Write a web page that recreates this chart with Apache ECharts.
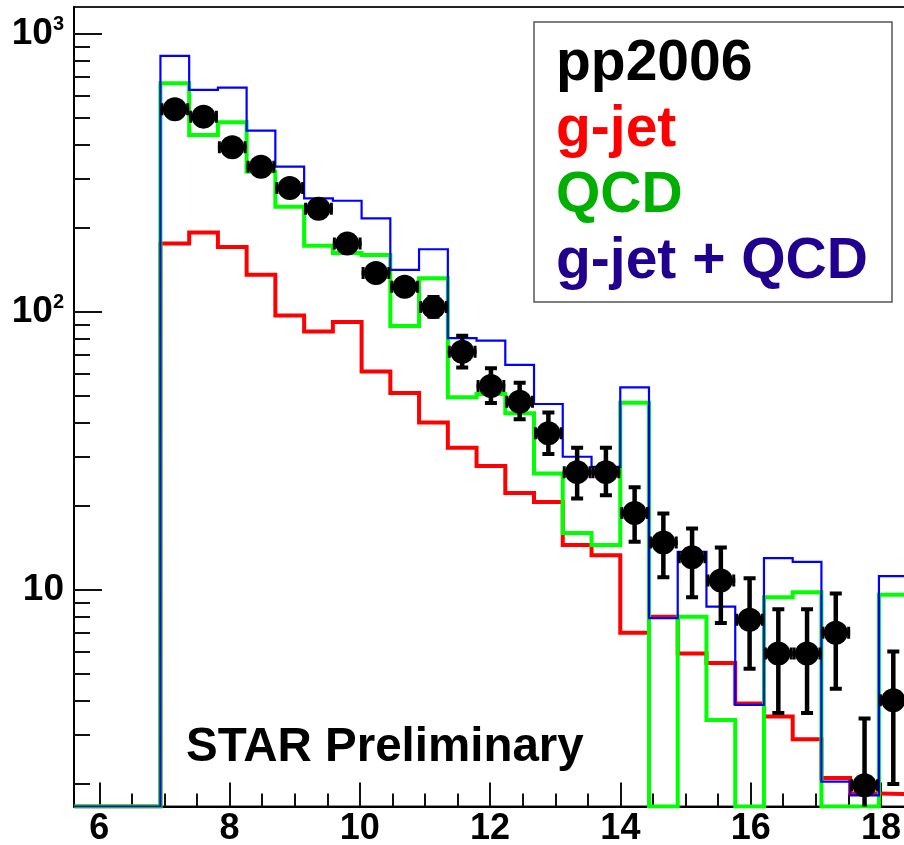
<!DOCTYPE html>
<html>
<head>
<meta charset="utf-8">
<script src="https://cdn.jsdelivr.net/npm/echarts@6/dist/echarts.min.js"></script>
<style>
html,body{margin:0;padding:0;background:#fff;}
#chart{width:904px;height:845px;}
</style>
</head>
<body>
<div id="chart"></div>
<script>
// ---- axis ranges ----
const X_MIN = 5.612, X_MAX = 18.845;
const Y_MIN = 1.66, Y_MAX = 1250;
const xLabelTicks = [6, 8, 10, 12, 14, 16, 18];
const xMinorTicks = [6.5, 7, 7.5, 8.5, 9, 9.5, 10.5, 11, 11.5, 12.5, 13, 13.5, 14.5, 15, 15.5, 16.5, 17, 17.5, 18.5];
const yLabelTicks = [10, 100, 1000];
const yMinorTicks = [2, 3, 4, 5, 6, 7, 8, 9, 20, 30, 40, 50, 60, 70, 80, 90, 200, 300, 400, 500, 600, 700, 800, 900];

// ---- histogram bin edges (30 bins) ----
const binEdges = [5.615, 6.056, 6.497, 6.939, 7.380, 7.821, 8.262, 8.703, 9.145, 9.586,
  10.027, 10.468, 10.909, 11.351, 11.792, 12.233, 12.674, 13.115, 13.557, 13.998,
  14.439, 14.880, 15.321, 15.763, 16.204, 16.645, 17.086, 17.527, 17.969, 18.410, 18.851];

// ---- series values per bin ----
const gjet = [0, 0, 0, 176, 193, 171, 136, 97, 85, 92, 61, 51, 40, 32.4, 27.9, 22.3, 20.7, 14.5, 13.3, 7.0,
  8.0, 5.9, 5.45, 3.9, 3.5, 2.9, 2.1, 1.85, 1.84, 1.8];
const qcd = [0, 0, 0, 665, 433, 481, 320, 239, 173, 163, 160, 89, 132, 49.3, 50.6, 43.2, 26.2, 16.0, 14.5, 47.1,
  0, 8.0, 3.4, 0, 9.4, 9.8, 0, 0, 9.6, 9.6];
const gjetPlusQcd = [0, 0, 0, 834, 629, 641, 449, 333, 256, 251, 217, 141.5, 168, 80.4, 78.8, 64.4, 46.6, 30.1, 27.7, 53.5,
  7.9, 13.7, 8.7, 3.85, 13.0, 12.6, 2.04, 1.82, 11.2, 11.2];

// ---- pp2006 data points with error bar ends ----
const ppData = [null, null, null, 536, 504, 391, 333, 279, 235, 176, 138, 123, 104, 71.9, 54.1, 47.5, 36.6, 26.5, 26.5, 18.9,
  14.8, 13.1, 10.8, 7.8, 5.9, 5.9, 7.0, 1.98, 4.0, null];
const ppErrLow = [null, null, null, 518, 487, 377, 321, 268, 225, 168, 131, 116, 96, 63, 47, 41.1, 30.8, 21.3, 21.9, 14.9,
  11.1, 9.4, 7.6, 5.2, 3.6, 3.6, 4.4, 0.5, 2.0, null];
const ppErrHigh = [null, null, null, 555, 522, 405, 345, 290, 245, 184, 145, 131, 113, 82, 62.7, 55.6, 43.4, 32.4, 32.4, 23.4,
  18.8, 16.6, 14.2, 11.0, 8.5, 8.5, 9.7, 3.44, 6.0, null];

const legendLabels = ['pp2006', 'g-jet', 'QCD', 'g-jet + QCD'];
const legendColors = ['#000000', '#ff0000', '#00b000', '#22008f'];

// ---- build helpers ----
function histLine(vals) {
  const pts = [];
  for (let k = 0; k < vals.length; k++) {
    const v = vals[k] > 0 ? vals[k] : Y_MIN; // empty bins drawn on the axis floor
    pts.push([binEdges[k], v]);
    pts.push([binEdges[k + 1], v]);
  }
  return pts;
}
const ppPoints = [], ppErr = [];
for (let k = 0; k < ppData.length; k++) {
  if (ppData[k] == null) continue;
  const c = (binEdges[k] + binEdges[k + 1]) / 2;
  ppPoints.push([c, ppData[k]]);
  ppErr.push([c, ppData[k], ppErrLow[k], ppErrHigh[k], binEdges[k], binEdges[k + 1]]);
}

const FONT = '"Liberation Sans", Arial, Helvetica, sans-serif';
const chart = echarts.init(document.getElementById('chart'), null, {renderer: 'canvas'});

function errRender(params, api) {
  const x = api.value(0), y = api.value(1), lo = api.value(2), hi = api.value(3), xl = api.value(4), xr = api.value(5);
  const pc = api.coord([x, y]);
  const pl = api.coord([xl, y]);
  const pr = api.coord([xr, y]);
  const pt = api.coord([x, hi]);
  const pb = api.coord([x, lo]);
  const st = {stroke: '#000', lineWidth: 4.5};
  const cap = 6;
  return {
    type: 'group',
    children: [
      {type: 'line', shape: {x1: pl[0], y1: pc[1], x2: pr[0], y2: pc[1]}, style: st},
      {type: 'line', shape: {x1: pl[0] + 1.5, y1: pc[1] - cap, x2: pl[0] + 1.5, y2: pc[1] + cap}, style: {stroke: '#000', lineWidth: 3}},
      {type: 'line', shape: {x1: pr[0] - 1.5, y1: pc[1] - cap, x2: pr[0] - 1.5, y2: pc[1] + cap}, style: {stroke: '#000', lineWidth: 3}},
      {type: 'line', shape: {x1: pc[0], y1: pt[1], x2: pc[0], y2: pb[1]}, style: st},
      {type: 'line', shape: {x1: pc[0] - cap, y1: pt[1], x2: pc[0] + cap, y2: pt[1]}, style: {stroke: '#000', lineWidth: 4}},
      {type: 'line', shape: {x1: pc[0] - cap, y1: pb[1], x2: pc[0] + cap, y2: pb[1]}, style: {stroke: '#000', lineWidth: 4}}
    ]
  };
}

const legendGraphics = [{
  type: 'rect', z: 100,
  shape: {x: 534, y: 22, width: 358, height: 280},
  style: {fill: '#fff', stroke: '#555', lineWidth: 1.5}
}];
const legendY = [64, 130, 196, 262];
legendLabels.forEach((t, i) => {
  legendGraphics.push({
    type: 'text', z: 101, x: 556, y: legendY[i],
    style: {text: t, fill: legendColors[i], font: 'bold 57px ' + FONT, verticalAlign: 'middle'}
  });
});
legendGraphics.push({
  type: 'text', z: 101, x: 186, y: 748,
  style: {text: 'STAR Preliminary', fill: '#000', font: 'bold 47.5px ' + FONT, verticalAlign: 'middle'}
});

const option = {
  animation: false,
  backgroundColor: '#fff',
  grid: {left: 74, top: 7, right: -32, bottom: 38.5, outerBoundsMode: 'none', containLabel: false,
    show: true, borderColor: '#222', borderWidth: 2, backgroundColor: '#fff'},
  xAxis: [{
    type: 'value', min: X_MIN, max: X_MAX, position: 'bottom',
    axisLine: {show: true, onZero: false, lineStyle: {color: '#000', width: 2}},
    axisTick: {show: true, inside: true, length: 24, customValues: xLabelTicks, lineStyle: {color: '#111', width: 2}},
    axisLabel: {customValues: xLabelTicks, margin: 5, color: '#000', fontFamily: FONT, fontWeight: 'bold', fontSize: 36},
    splitLine: {show: false}
  }, {
    type: 'value', min: X_MIN, max: X_MAX, position: 'bottom', offset: 0,
    axisLine: {show: false, onZero: false},
    axisTick: {show: true, inside: true, length: 13, customValues: xMinorTicks, lineStyle: {color: '#111', width: 2}},
    axisLabel: {show: false},
    splitLine: {show: false}
  }],
  yAxis: [{
    type: 'log', logBase: 10, min: Y_MIN, max: Y_MAX, position: 'left',
    axisLine: {show: true, lineStyle: {color: '#000', width: 2}},
    axisTick: {show: true, inside: true, length: 28, customValues: yLabelTicks, lineStyle: {color: '#111', width: 2}},
    axisLabel: {
      customValues: yLabelTicks, margin: 10,
      formatter: function (v) {
        const e = Math.round(Math.log10(v));
        return e === 1 ? '{b|10}' : '{b|10}{s|' + e + '}';
      },
      rich: {
        b: {fontFamily: FONT, fontWeight: 'bold', fontSize: 37, color: '#000', lineHeight: 38},
        s: {fontFamily: FONT, fontWeight: 'bold', fontSize: 20, color: '#000', lineHeight: 20, verticalAlign: 'top'}
      }
    },
    splitLine: {show: false}
  }, {
    type: 'log', logBase: 10, min: Y_MIN, max: Y_MAX, position: 'left', offset: 0,
    axisLine: {show: false},
    axisTick: {show: true, inside: true, length: 16, customValues: yMinorTicks, lineStyle: {color: '#111', width: 2}},
    axisLabel: {show: false},
    splitLine: {show: false}
  }],
  series: [{
    name: 'g-jet', type: 'line', data: histLine(gjet), symbol: 'none', clip: true, z: 3,
    lineStyle: {color: '#ff0000', width: 4, cap: 'butt', join: 'miter'}
  }, {
    name: 'QCD', type: 'line', data: histLine(qcd), symbol: 'none', clip: true, z: 4,
    lineStyle: {color: '#00ff00', width: 4, cap: 'butt', join: 'miter'}
  }, {
    name: 'g-jet + QCD', type: 'line', data: histLine(gjetPlusQcd), symbol: 'none', clip: true, z: 5,
    lineStyle: {color: '#0000ff', width: 2.2, cap: 'butt', join: 'miter'}
  }, {
    name: 'pp2006 err', type: 'custom', data: ppErr, renderItem: errRender, clip: true, z: 6
  }, {
    name: 'pp2006', type: 'scatter', data: ppPoints, symbol: 'circle', symbolSize: 24, clip: true, z: 7,
    itemStyle: {color: '#000', opacity: 1}
  }],
  graphic: legendGraphics
};
chart.setOption(option);
</script>
</body>
</html>
